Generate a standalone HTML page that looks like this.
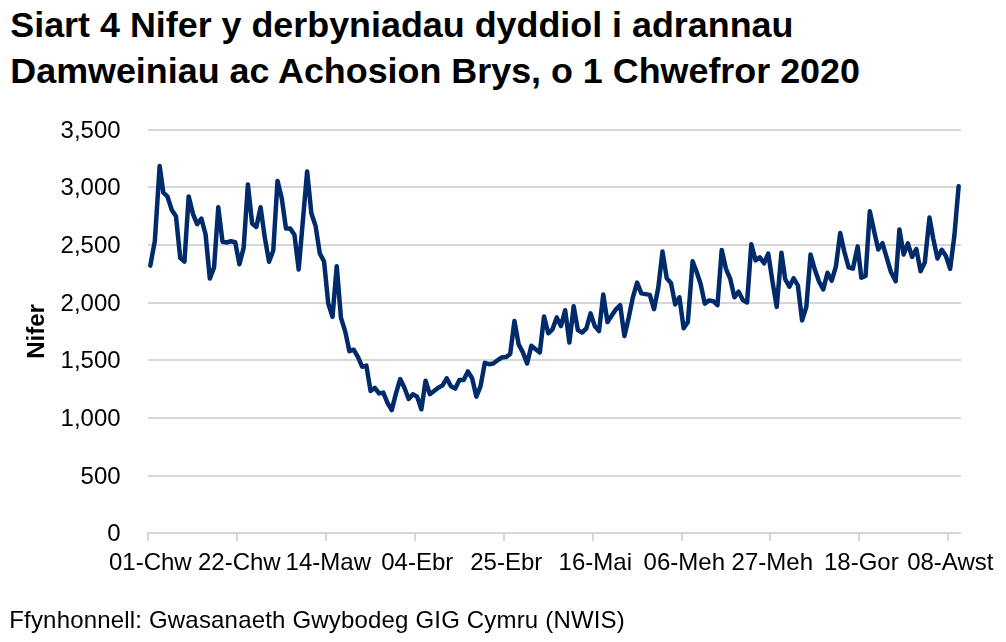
<!DOCTYPE html>
<html><head><meta charset="utf-8"><title>Siart 4</title>
<style>
html,body{margin:0;padding:0;background:#fff;}
body{width:1006px;height:642px;overflow:hidden;position:relative;font-family:"Liberation Sans",sans-serif;color:#000;}
.title{position:absolute;left:10.3px;top:2.0px;font-weight:bold;font-size:35.86px;line-height:46.1px;white-space:nowrap;}
.src{position:absolute;left:9.25px;top:605.2px;font-size:24px;line-height:30px;white-space:nowrap;letter-spacing:0.18px;}
svg{position:absolute;left:0;top:0;will-change:transform;}
.ax{font-family:"Liberation Sans",sans-serif;font-size:24px;fill:#000;}
.yt{font-family:"Liberation Sans",sans-serif;font-size:24px;font-weight:bold;fill:#000;}
</style></head><body>
<div class="title">Siart 4 Nifer y derbyniadau dyddiol i adrannau<br>Damweiniau ac Achosion Brys, o 1 Chwefror 2020</div>
<svg width="1006" height="642" viewBox="0 0 1006 642">
<rect x="148" y="129" width="813" height="2" fill="#d6d6d6"/>
<rect x="148" y="186" width="813" height="2" fill="#d6d6d6"/>
<rect x="148" y="244" width="813" height="2" fill="#d6d6d6"/>
<rect x="148" y="302" width="813" height="2" fill="#d6d6d6"/>
<rect x="148" y="359" width="813" height="2" fill="#d6d6d6"/>
<rect x="148" y="417" width="813" height="2" fill="#d6d6d6"/>
<rect x="148" y="475" width="813" height="2" fill="#d6d6d6"/>
<rect x="147" y="532" width="814" height="2" fill="#d6d6d6"/>
<rect x="147" y="532" width="2" height="9" fill="#d6d6d6"/>
<rect x="236" y="532" width="2" height="9" fill="#d6d6d6"/>
<rect x="325" y="532" width="2" height="9" fill="#d6d6d6"/>
<rect x="414" y="532" width="2" height="9" fill="#d6d6d6"/>
<rect x="503" y="532" width="2" height="9" fill="#d6d6d6"/>
<rect x="592" y="532" width="2" height="9" fill="#d6d6d6"/>
<rect x="681" y="532" width="2" height="9" fill="#d6d6d6"/>
<rect x="769" y="532" width="2" height="9" fill="#d6d6d6"/>
<rect x="858" y="532" width="2" height="9" fill="#d6d6d6"/>
<rect x="947" y="532" width="2" height="9" fill="#d6d6d6"/>
<text x="120.6" y="138.1" text-anchor="end" class="ax">3,500</text>
<text x="120.6" y="195.1" text-anchor="end" class="ax">3,000</text>
<text x="120.6" y="253.1" text-anchor="end" class="ax">2,500</text>
<text x="120.6" y="311.1" text-anchor="end" class="ax">2,000</text>
<text x="120.6" y="368.1" text-anchor="end" class="ax">1,500</text>
<text x="120.6" y="426.1" text-anchor="end" class="ax">1,000</text>
<text x="120.6" y="484.1" text-anchor="end" class="ax">500</text>
<text x="120.6" y="541.1" text-anchor="end" class="ax">0</text>
<text x="150.30" y="569.8" text-anchor="middle" class="ax">01-Chw</text>
<text x="239.30" y="569.8" text-anchor="middle" class="ax">22-Chw</text>
<text x="328.30" y="569.8" text-anchor="middle" class="ax">14-Maw</text>
<text x="417.30" y="569.8" text-anchor="middle" class="ax">04-Ebr</text>
<text x="506.30" y="569.8" text-anchor="middle" class="ax">25-Ebr</text>
<text x="595.30" y="569.8" text-anchor="middle" class="ax">16-Mai</text>
<text x="684.30" y="569.8" text-anchor="middle" class="ax">06-Meh</text>
<text x="772.30" y="569.8" text-anchor="middle" class="ax">27-Meh</text>
<text x="861.30" y="569.8" text-anchor="middle" class="ax">18-Gor</text>
<text x="950.30" y="569.8" text-anchor="middle" class="ax">08-Awst</text>
<text transform="translate(43.9,331.5) rotate(-90)" text-anchor="middle" class="yt">Nifer</text>
<path d="M150.30,265.6 L154.83,241.2 L159.66,166.1 L163.29,192.4 L167.52,196.7 L171.75,209.9 L175.98,216.2 L180.21,257.9 L184.44,261.6 L188.67,196.4 L192.91,213.8 L197.14,224.2 L201.37,218.6 L205.60,234.5 L209.83,278.6 L214.06,267.5 L218.29,207.2 L222.52,241.7 L226.75,242.5 L230.98,241.2 L235.21,242.2 L239.44,264.3 L243.67,247.6 L247.90,184.4 L252.13,223.4 L256.36,226.9 L260.59,207.2 L264.82,237.7 L269.05,261.7 L273.28,250.5 L277.51,180.9 L281.75,198.2 L285.98,228.4 L290.21,228.4 L294.44,234.8 L298.67,269.4 L302.90,220.5 L307.13,171.4 L311.36,213.3 L315.59,226.0 L319.82,253.5 L324.05,261.5 L328.28,303.6 L332.51,316.8 L336.74,266.2 L340.97,317.9 L345.20,331.4 L349.43,351.2 L353.66,349.7 L357.89,356.8 L362.12,366.7 L366.36,365.6 L370.59,391.0 L374.82,387.8 L379.05,393.4 L383.28,392.6 L387.51,402.9 L391.74,410.1 L395.97,393.4 L400.20,379.1 L404.43,387.8 L408.66,399.0 L412.89,394.2 L417.12,396.6 L421.35,409.3 L425.58,380.7 L429.81,394.2 L434.04,391.0 L438.27,387.8 L442.50,385.4 L446.74,378.3 L450.97,386.2 L455.20,388.6 L459.43,379.9 L463.66,379.9 L467.89,371.4 L472.12,378.3 L476.35,396.6 L480.58,386.2 L484.81,362.9 L489.04,364.2 L493.27,363.5 L497.50,360.3 L501.73,357.5 L505.96,357.1 L510.19,354.0 L514.42,321.0 L518.65,344.4 L522.88,352.4 L527.11,363.5 L531.35,345.7 L535.58,349.2 L539.81,352.4 L544.04,316.6 L548.27,333.3 L552.50,329.3 L556.73,317.4 L560.96,326.1 L565.19,310.2 L569.42,342.6 L573.65,306.2 L577.88,330.1 L582.11,332.5 L586.34,328.5 L590.57,313.4 L594.80,326.1 L599.03,331.1 L603.26,294.5 L607.49,322.1 L611.72,315.6 L615.96,309.3 L620.19,305.2 L624.42,336.0 L628.65,317.9 L632.88,297.3 L637.11,282.6 L641.34,293.3 L645.57,294.1 L649.80,294.9 L654.03,309.2 L658.26,287.7 L662.49,251.6 L666.72,278.2 L670.95,282.9 L675.18,304.4 L679.41,297.3 L683.64,328.3 L687.87,321.9 L692.60,261.2 L696.33,271.0 L700.57,283.7 L704.80,303.6 L709.03,300.4 L713.26,301.2 L717.49,305.2 L721.72,249.9 L725.95,268.8 L730.18,278.6 L734.41,297.3 L738.64,291.7 L742.87,300.1 L747.10,302.5 L751.33,244.2 L755.56,260.4 L759.79,257.4 L764.02,263.3 L768.25,253.6 L772.48,281.5 L776.71,306.9 L781.44,252.8 L785.18,279.1 L789.41,286.7 L793.64,278.3 L797.87,285.4 L802.10,320.4 L806.33,306.9 L810.56,254.4 L814.79,269.5 L819.02,281.5 L823.25,289.4 L827.48,272.7 L831.71,280.7 L835.94,266.4 L840.17,233.0 L844.40,252.0 L848.63,267.4 L852.86,268.7 L857.69,246.4 L861.32,277.8 L865.55,275.9 L869.79,211.3 L874.02,230.7 L878.25,249.5 L882.48,243.2 L886.71,257.7 L890.94,272.0 L895.67,281.3 L899.40,229.4 L903.63,254.5 L907.86,243.4 L912.09,256.9 L916.32,249.0 L920.55,271.2 L924.78,262.5 L929.51,217.6 L933.24,238.6 L937.47,258.5 L941.70,249.8 L945.93,256.1 L950.16,268.8 L954.40,235.4 L958.63,186.3" fill="none" stroke="#002b6b" stroke-width="4.5" stroke-linejoin="round" stroke-linecap="round"/>
</svg>
<div class="src">Ffynhonnell: Gwasanaeth Gwybodeg GIG Cymru (NWIS)</div>
</body></html>
